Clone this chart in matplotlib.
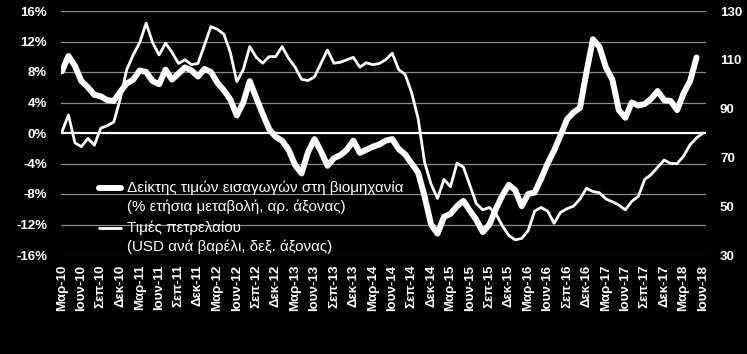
import matplotlib
matplotlib.use('Agg')
import matplotlib.pyplot as plt
from matplotlib.lines import Line2D

# Import price index for industry (% yoy, left axis), monthly Mar-10 .. May-18
import_prices = [
    8.1, 10.1, 8.8, 6.8, 6.0, 5.0, 4.8, 4.3, 4.2, 5.4,
    6.5, 7.0, 8.2, 8.0, 6.8, 6.4, 8.3, 7.0, 7.8, 8.6,
    8.2, 7.4, 8.4, 8.0, 6.6, 5.6, 4.4, 2.3, 4.0, 6.8,
    4.6, 2.5, 0.5, -0.5, -1.0, -2.2, -4.2, -5.3, -2.5, -0.8,
    -2.4, -4.3, -3.3, -2.9, -2.2, -1.0, -2.6, -2.2, -1.8, -1.5,
    -1.0, -0.8, -2.1, -2.8, -4.0, -5.2, -8.3, -12.0, -13.2, -11.0,
    -10.6, -9.6, -8.9, -10.2, -11.4, -13.0, -12.0, -10.0, -8.2, -6.8,
    -7.5, -9.6, -8.0, -7.8, -6.0, -4.0, -2.3, -0.3, 1.8, 2.7,
    3.3, 8.0, 12.3, 11.3, 8.6, 7.0, 3.0, 2.0, 4.0, 3.6,
    3.8, 4.5, 5.5, 4.3, 4.2, 3.0, 5.2, 6.8, 9.9,
]

# Oil prices (USD per barrel, right axis), monthly Mar-10 .. Jun-18
oil_prices = [
    80.5, 87.4, 76.0, 74.4, 77.8, 75.0, 82.0, 83.0, 84.5, 94.0,
    106.0, 112.0, 117.0, 125.0, 117.0, 112.0, 116.8, 113.0, 108.5, 110.0,
    108.0, 108.5, 116.0, 123.6, 122.5, 120.5, 113.0, 101.0, 106.0, 115.4,
    111.0, 108.6, 111.3, 111.3, 115.4, 110.6, 107.0, 102.0, 101.5, 103.0,
    108.6, 114.0, 108.6, 109.0, 110.0, 111.0, 107.0, 108.8, 108.0, 108.5,
    110.0, 112.7, 106.0, 104.0, 96.5, 86.0, 68.0, 59.0, 53.2, 61.0,
    58.0, 67.6, 66.0, 58.5, 51.0, 48.5, 49.5, 47.0, 42.0, 38.0,
    36.2, 36.8, 40.0, 48.0, 49.5, 48.0, 43.0, 47.5, 49.0, 50.0,
    53.0, 57.3, 56.0, 55.5, 53.0, 51.8, 50.5, 48.5, 52.0, 54.0,
    61.0, 63.0, 66.0, 68.9, 67.5, 67.5, 70.5, 75.2, 78.0, 80.0,
]

tick_labels = [
    'Μαρ-10', 'Ιουν-10', 'Σεπ-10', 'Δεκ-10',
    'Μαρ-11', 'Ιουν-11', 'Σεπ-11', 'Δεκ-11',
    'Μαρ-12', 'Ιουν-12', 'Σεπ-12', 'Δεκ-12',
    'Μαρ-13', 'Ιουν-13', 'Σεπ-13', 'Δεκ-13',
    'Μαρ-14', 'Ιουν-14', 'Σεπ-14', 'Δεκ-14',
    'Μαρ-15', 'Ιουν-15', 'Σεπ-15', 'Δεκ-15',
    'Μαρ-16', 'Ιουν-16', 'Σεπ-16', 'Δεκ-16',
    'Μαρ-17', 'Ιουν-17', 'Σεπ-17', 'Δεκ-17',
    'Μαρ-18', 'Ιουν-18',
]

left_ticks = [-16, -12, -8, -4, 0, 4, 8, 12, 16]
right_ticks = [30, 50, 70, 90, 110, 130]

legend_labels = [
    ('Δείκτης τιμών εισαγωγών στη βιομηχανία', '(% ετήσια μεταβολή, αρ. άξονας)'),
    ('Τιμές πετρελαίου', '(USD ανά βαρέλι, δεξ. άξονας)'),
]

plt.rcParams['font.family'] = ['Liberation Sans', 'DejaVu Sans']

W, H = 747, 354
fig = plt.figure(figsize=(W / 100, H / 100), dpi=100)
fig.patch.set_facecolor('black')

ax = fig.add_axes([61 / W, 1 - 255 / H, 645 / W, 244 / H])
ax.set_facecolor('black')
ax2 = ax.twinx()
ax2.patch.set_visible(False)

x_imp = list(range(len(import_prices)))
x_oil = list(range(len(oil_prices)))

for y in left_ticks:
    if y == 0:
        continue
    ax.axhline(y, color='#8c8c8c', lw=0.9, zorder=1)
ax.axhline(0, color='white', lw=1.6, zorder=2)

ax.plot(x_imp, import_prices, color='white', lw=4.3,
        solid_capstyle='round', solid_joinstyle='round', zorder=3)
ax2.plot(x_oil, oil_prices, color='white', lw=2.0,
         solid_capstyle='round', solid_joinstyle='round', zorder=3)

ax.set_ylim(-16, 16)
ax2.set_ylim(30, 130)
ax.set_xlim(-0.15, 99.46)

ax.set_yticks(left_ticks)
ax.set_yticklabels([f'{v}%' for v in left_ticks])
ax2.set_yticks(right_ticks)
ax2.set_yticklabels([str(v) for v in right_ticks])
ax.set_xticks(list(range(0, 100, 3)))
ax.set_xticklabels(tick_labels, rotation=90)

for a in (ax, ax2):
    for s in a.spines.values():
        s.set_visible(False)
    a.tick_params(length=0, colors='white', labelsize=9.5)
ax.tick_params(axis='y', pad=10)
ax2.tick_params(axis='y', pad=10)
ax.tick_params(axis='x', pad=7)
for lab in ax.get_xticklabels() + ax.get_yticklabels() + ax2.get_yticklabels():
    lab.set_fontweight('bold')
    lab.set_color('white')

# manual legend
handles = [(188, 4.3), (228, 2.0)]
baselines = [(192, 211), (232, 251)]
for (hy, lw), (b1, b2), (l1, l2) in zip(handles, baselines, legend_labels):
    fig.add_artist(Line2D([99 / W, 121 / W], [1 - hy / H, 1 - hy / H],
                          color='white', lw=lw, solid_capstyle='round'))
    fig.text(127 / W, 1 - b1 / H, l1, color='white', fontsize=10.9,
             va='baseline', ha='left')
    fig.text(127 / W, 1 - b2 / H, l2, color='white', fontsize=10.9,
             va='baseline', ha='left')

fig.savefig('out.png', dpi=100, facecolor='black')
